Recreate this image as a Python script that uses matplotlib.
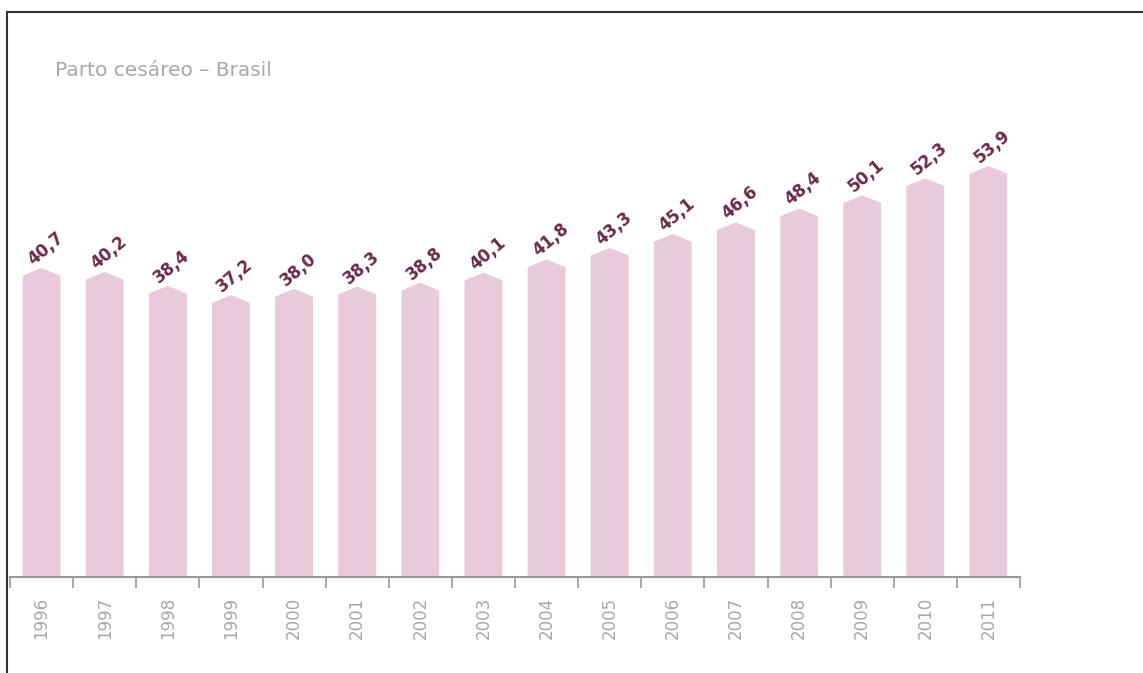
import numpy as np
import matplotlib
matplotlib.use('Agg')
import matplotlib.pyplot as plt
from matplotlib.patches import Polygon
from matplotlib.lines import Line2D

# data
years = ['1996', '1997', '1998', '1999', '2000', '2001', '2002', '2003',
         '2004', '2005', '2006', '2007', '2008', '2009', '2010', '2011']
values = [40.7, 40.2, 38.4, 37.2, 38.0, 38.3, 38.8, 40.1,
          41.8, 43.3, 45.1, 46.6, 48.4, 50.1, 52.3, 53.9]
labels = ['40,7', '40,2', '38,4', '37,2', '38,0', '38,3', '38,8', '40,1',
          '41,8', '43,3', '45,1', '46,6', '48,4', '50,1', '52,3', '53,9']

bar_color = '#e9cadb'
label_color = '#6b2a48'
gray = '#a8a8a8'

W, H = 1143, 673
fig = plt.figure(figsize=(W / 100, H / 100), dpi=100)

# axes placed in pixel terms
left, right, bottom, top = 10, 1020, 577, 100
ax = fig.add_axes([left / W, 1 - bottom / H, (right - left) / W, (bottom - top) / H])

n = len(values)
x = np.arange(n)
bw = 0.6
tip = 1.0  # height of the pointed top, in data units

for xi, v, lab in zip(x, values, labels):
    pts = [(xi - bw / 2, 0), (xi - bw / 2, v - tip), (xi, v),
           (xi + bw / 2, v - tip), (xi + bw / 2, 0)]
    ax.add_patch(Polygon(pts, closed=True, facecolor=bar_color, edgecolor='none'))
    ax.annotate(lab, (xi, v), xytext=(7, 9), textcoords='offset points',
                rotation=40, rotation_mode='anchor', ha='center', va='bottom',
                fontsize=12, fontweight='bold', color=label_color,
                family='DejaVu Sans')

ax.set_xlim(-0.5, n - 0.5)
ax.set_ylim(0.73, 0.73 + (bottom - top) / 7.73)

for s in ['top', 'right', 'left']:
    ax.spines[s].set_visible(False)
ax.spines['bottom'].set_color('#999999')
ax.spines['bottom'].set_linewidth(1.5)
ax.set_yticks([])

# ticks between categories, labels at centres
ax.set_xticks(np.arange(n + 1) - 0.5)
ax.set_xticklabels([])
ax.tick_params(axis='x', which='major', length=8, width=1.2, color='#999999', direction='out')
ax.set_xticks(x, minor=True)
ax.set_xticklabels(years, minor=True, rotation=90, color=gray, fontsize=12, family='DejaVu Sans')
ax.tick_params(axis='x', which='minor', length=0, pad=14)

fig.text(55 / W, 1 - 70 / H, 'Parto cesáreo \u2013 Brasil', color=gray, fontsize=14.5,
         va='center', ha='left', family='DejaVu Sans')

# frame lines
fig.add_artist(Line2D([7 / W, 7 / W], [0, 1 - 12 / H], transform=fig.transFigure,
                      color='#333333', linewidth=1.5))
fig.add_artist(Line2D([7 / W, 1], [1 - 12 / H, 1 - 12 / H], transform=fig.transFigure,
                      color='#333333', linewidth=1.5))

fig.savefig('out.png', dpi=100)
